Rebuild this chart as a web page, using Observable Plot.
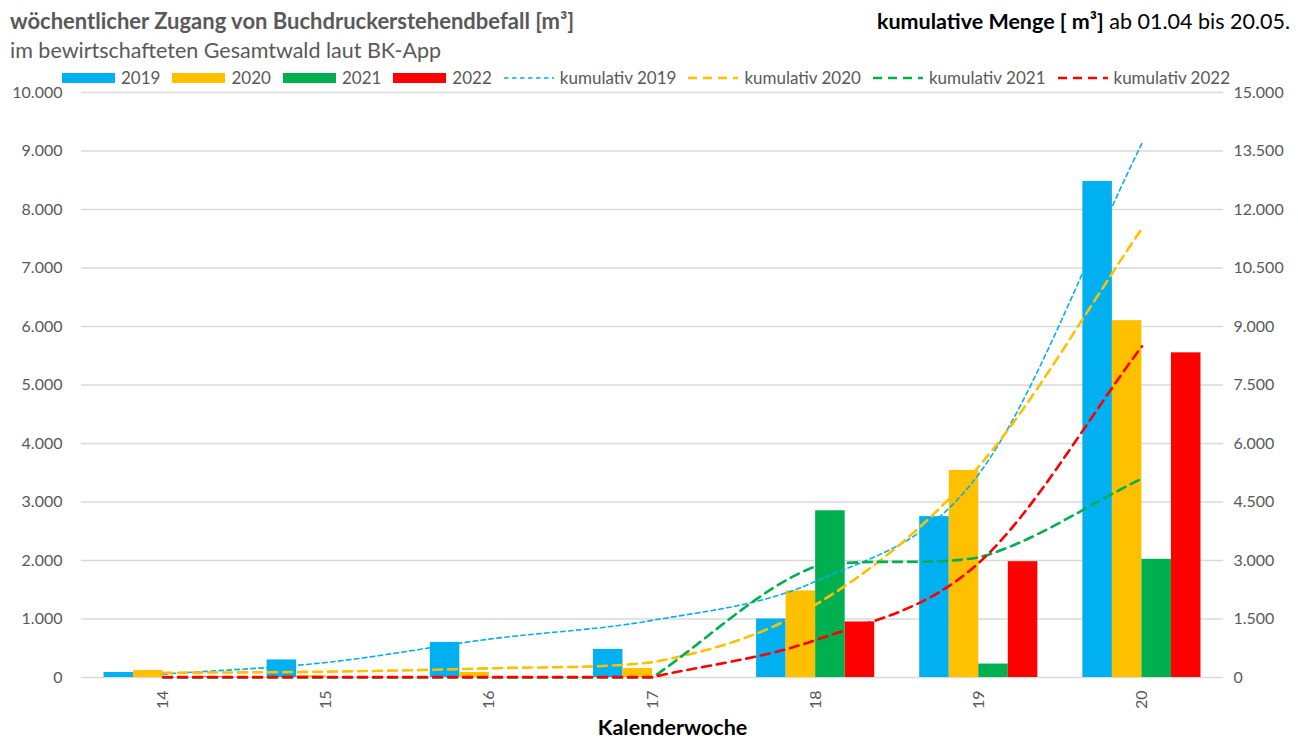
<!DOCTYPE html>
<html><head><meta charset="utf-8">
<script src="https://cdn.jsdelivr.net/npm/d3@7"></script>
<script src="https://cdn.jsdelivr.net/npm/@observablehq/plot@0.6"></script>
<style>
body{margin:0;background:#fff;font-family:Lato,"Open Sans",sans-serif;}
#wrap{position:relative;width:1298px;height:742px;overflow:hidden;background:#fff;}
#head{position:absolute;left:0;top:0;width:1298px;height:85px;}
.t1{position:absolute;left:10px;top:8px;font-weight:700;font-size:22px;line-height:26px;color:#595959;white-space:nowrap;}
.t2{position:absolute;left:10px;top:37px;font-size:21.5px;line-height:26px;color:#595959;white-space:nowrap;}
.t3{position:absolute;right:8px;top:8px;font-size:21.5px;line-height:26px;color:#000;white-space:nowrap;}
.t3 b{font-weight:700;}
#legend{position:absolute;left:62px;top:68px;display:flex;align-items:center;font-size:17px;line-height:20px;color:#595959;white-space:nowrap;}
#legend .it{display:flex;align-items:center;margin-right:12px;}
#legend .it span{margin-left:6px;}
#chart{position:absolute;left:0;top:85px;}
#chart svg{overflow:visible;}
</style></head>
<body>
<div id="wrap">
  <div id="head">
    <div class="t1">wöchentlicher Zugang von Buchdruckerstehendbefall [m³]</div>
    <div class="t2">im bewirtschafteten Gesamtwald laut BK-App</div>
    <div class="t3"><b>kumulative Menge [ m³]</b> ab 01.04 bis 20.05.</div>
    <div id="legend"></div>
  </div>
  <div id="chart"></div>
</div>
<script>
// ---- data ----
const weeks = [14, 15, 16, 17, 18, 19, 20];
const years = ["2019", "2020", "2021", "2022"];
const v2019 = [85, 300, 600, 480, 1000, 2750, 8480];
const v2020 = [120, 30, 85, 155, 1480, 3540, 6100];
const v2021 = [0, 0, 0, 0, 2850, 230, 2020];
const v2022 = [10, 0, 0, 0, 950, 1980, 5550];
const leftTicks = [0, 1000, 2000, 3000, 4000, 5000, 6000, 7000, 8000, 9000, 10000];
const rightTicks = [0, 1500, 3000, 4500, 6000, 7500, 9000, 10500, 12000, 13500, 15000];
const colors = ["#00B0F0", "#FFC000", "#00B050", "#FF0000"];

const series = [v2019, v2020, v2021, v2022];
const ratio = rightTicks[rightTicks.length - 1] / leftTicks[leftTicks.length - 1];
const de = d3.formatLocale({decimal: ",", thousands: ".", grouping: [3], currency: ["", "€"]});
const fmt = de.format(",");

const bars = [];
series.forEach((vals, i) => vals.forEach((v, j) => bars.push({week: weeks[j], year: years[i], i, value: v})));
const cum = series.map((vals, i) => {
  const c = d3.cumsum(vals);
  return weeks.map((w, j) => ({week: w, year: years[i], cum: c[j]}));
});

const groupW = 0.724, barW = groupW / years.length;
const dashes = [
  {dash: "4.5,3.5", width: 1.6},
  {dash: "9,6", width: 2.6},
  {dash: "9,6", width: 2.6},
  {dash: "9,6", width: 2.6}
];

// Spreadsheet-style smoothed line: Bézier through the points, tangents from neighbours,
// one-sided next to flat stretches, control points kept within each segment's value range
function SmoothCurve(context) { this._context = context; }
SmoothCurve.prototype = {
  areaStart() { this._line = 0; },
  areaEnd() { this._line = NaN; },
  lineStart() { this._x = []; this._y = []; },
  point(x, y) { this._x.push(+x); this._y.push(+y); },
  lineEnd() {
    const xs = this._x, ys = this._y, n = xs.length, c = this._context;
    if (!n) return;
    const eps = 0.3;
    const sec = [];
    for (let i = 0; i < n - 1; i++) sec.push((ys[i + 1] - ys[i]) / (xs[i + 1] - xs[i]));
    const m = xs.map((_, i) => {
      if (i === 0) return sec[0];
      if (i === n - 1) return sec[n - 2];
      const l = sec[i - 1], r = sec[i];
      if (Math.abs(l) * (xs[i] - xs[i - 1]) < eps) return r;
      if (Math.abs(r) * (xs[i + 1] - xs[i]) < eps) return l;
      return (l + r) / 2;
    });
    c.moveTo(xs[0], ys[0]);
    for (let i = 0; i < n - 1; i++) {
      const dx = xs[i + 1] - xs[i];
      const lo = Math.min(ys[i], ys[i + 1]), hi = Math.max(ys[i], ys[i + 1]);
      const c1y = Math.max(lo, Math.min(hi, ys[i] + m[i] * dx / 3));
      const c2y = Math.max(lo, Math.min(hi, ys[i + 1] - m[i + 1] * dx / 3));
      c.bezierCurveTo(xs[i] + dx / 3, c1y, xs[i + 1] - dx / 3, c2y, xs[i + 1], ys[i + 1]);
    }
  }
};
const smooth = (context) => new SmoothCurve(context);

// ---- legend ----
const lg = document.getElementById("legend");
years.forEach((y, i) => {
  const it = document.createElement("div"); it.className = "it";
  it.innerHTML = `<svg width="53" height="10"><rect width="53" height="10" fill="${colors[i]}"/></svg><span>${y}</span>`;
  lg.appendChild(it);
});
years.forEach((y, i) => {
  const it = document.createElement("div"); it.className = "it";
  it.innerHTML = `<svg width="50" height="10"><line x1="0" x2="50" y1="5" y2="5" stroke="${colors[i]}" stroke-width="${dashes[i].width}" stroke-dasharray="${dashes[i].dash}"/></svg><span>kumulativ ${y}</span>`;
  lg.appendChild(it);
});

// ---- chart ----
const marks = [
  Plot.gridY(leftTicks, {stroke: "#d9d9d9", strokeOpacity: 1, strokeWidth: 1.5}),
  Plot.axisY(leftTicks, {anchor: "left", tickSize: 0, tickPadding: 19, tickFormat: fmt, label: null}),
  Plot.axisY(leftTicks, {anchor: "right", tickSize: 0, tickPadding: 10, tickFormat: d => fmt(d * ratio), label: null}),
  Plot.axisX(weeks, {anchor: "bottom", tickSize: 0, tickPadding: 13, tickRotate: -90, tickFormat: d => String(d), label: null}),
  Plot.rect(bars, {
    x1: d => d.week - groupW / 2 + d.i * barW,
    x2: d => d.week - groupW / 2 + (d.i + 1) * barW,
    y1: 0, y2: "value", fill: "year"
  })
];
cum.forEach((rows, i) => {
  marks.push(Plot.line(rows, {x: "week", y: d => d.cum / ratio, stroke: colors[i],
    strokeWidth: dashes[i].width, strokeDasharray: dashes[i].dash, curve: smooth}));
});
marks.push(Plot.text(["Kalenderwoche"], {frameAnchor: "bottom", dx: 20, dy: 57, fontWeight: "bold", fontSize: 21.5, fill: "#000"}));

const chart = Plot.plot({
  width: 1298, height: 657,
  marginLeft: 81, marginRight: 75, marginTop: 7, marginBottom: 65,
  x: {domain: [weeks[0] - 0.5, weeks[weeks.length - 1] + 0.5], axis: null},
  y: {domain: [0, leftTicks[leftTicks.length - 1]], axis: null},
  color: {domain: years, range: colors},
  style: {fontFamily: "Lato, 'Open Sans', sans-serif", fontSize: "16px", color: "#595959", background: "#fff"},
  marks
});
document.getElementById("chart").appendChild(chart);
</script>
</body></html>
